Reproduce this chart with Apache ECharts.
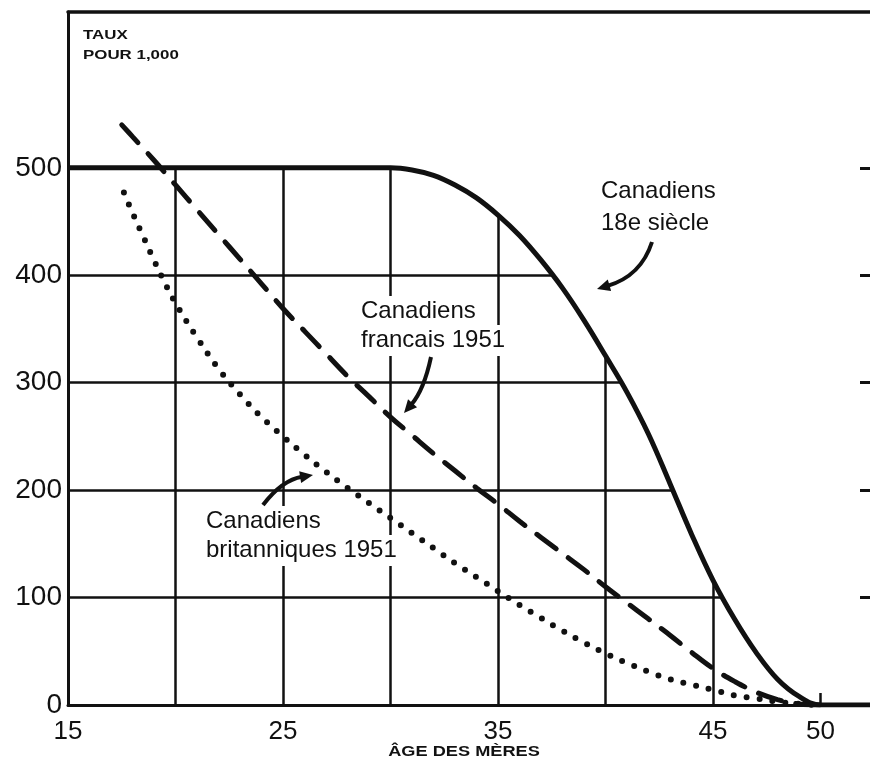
<!DOCTYPE html>
<html>
<head>
<meta charset="utf-8">
<script src="https://cdn.jsdelivr.net/npm/echarts@6/dist/echarts.min.js"></script>
<style>
html,body{margin:0;padding:0;background:#fff;}
#chart{width:870px;height:766px;}
</style>
</head>
<body>
<div id="chart"></div>
<script>
// ---- data ----
const solidAges  = [15,20,25,30,31,32,33,34,35,36,37,38,39,40,41,42,43,44,45,46,47,48,49,50,53];
const solidRates = [500,500,500,500,498,493,484,472,456,437,414,388,358,325,291,252,206,159,116,80,49,24,8,0,0];

const dashedAges  = [17.5,18,19,20,21,22,23,24,25,26,27,28,29,30,31,32,33,34,35,36,37,38,39,40,41,42,43,44,45,46,47,48,49,50];
const dashedRates = [540,529,507,484,461,438,415,392,369,348,327,306,287,268,251,234,218,202,187,171,156,141,126,110,95,80,65,49,34,22,12,5,1,0];

const dottedAges  = [17.6,18,18.5,19,19.5,20,21,22,23,24,25,26,27,28,29,30,31,32,33,34,35,36,37,38,39,40,41,42,43,44,45,46,47,48,49,50];
const dottedRates = [477,458,436,414,393,374,342,313,289,268,250,233,217,202,188,174,160,146,132,119,106,93,81,69,58,48,39,31,24,19,14,9,6,3,1,0];

const xTickLabels = [15,25,35,45,50];
const yTickLabels = [0,100,200,300,400,500];
const rightTicks  = [100,200,300,400,500];

const xMin = 15, xMax = 52.3, yMin = 0, yMax = 645;

const pairs = (xs, ys) => xs.map((x, i) => [x, ys[i]]);

const FONT = '"Liberation Sans", Arial, sans-serif';
const INK = '#111';

const chart = echarts.init(document.getElementById('chart'), null, {renderer: 'canvas'});

function arrow(x0, y0, cx, cy, x1, y1, w) {
  const dx = x1 - cx, dy = y1 - cy;
  const len = Math.hypot(dx, dy);
  const ux = dx / len, uy = dy / len;
  const L = 13, H = 6;
  const bx = x1 - ux * L, by = y1 - uy * L;
  return [
    {type: 'bezierCurve', z: 50,
     shape: {x1: x0, y1: y0, cpx1: cx, cpy1: cy, x2: bx + ux * 2, y2: by + uy * 2},
     style: {stroke: INK, lineWidth: w, fill: null}},
    {type: 'polygon', z: 50,
     shape: {points: [[x1, y1], [bx - uy * H, by + ux * H], [bx + uy * H, by - ux * H]]},
     style: {fill: INK}}
  ];
}

function label(x, y, text, boxed) {
  const st = {x: x, y: y, text: text, font: '24px ' + FONT, lineHeight: 29, fill: INK, verticalAlign: 'top'};
  if (boxed) { st.backgroundColor = '#fff'; st.padding = [1, 3]; }
  return {type: 'text', z: 40, style: st};
}

const option = {
  backgroundColor: '#fff',
  animation: false,
  grid: {left: 68, right: 0, top: 12, bottom: 61, containLabel: false},
  xAxis: [
    {type: 'value', min: xMin, max: xMax, interval: 5, position: 'bottom', z: 0,
     axisLine: {show: false}, axisTick: {show: false}, axisLabel: {show: false},
     splitLine: {show: true, lineStyle: {color: INK, width: 2.5}}},
    {type: 'value', min: xMin, max: xMax, interval: 5, position: 'bottom', z: 10,
     axisLine: {show: true, onZero: false, lineStyle: {color: INK, width: 3}},
     axisTick: {show: true, inside: true, length: 12, customValues: [50], lineStyle: {color: INK, width: 2.5}},
     axisLabel: {show: true, customValues: xTickLabels, margin: 14, color: INK, fontSize: 26, fontFamily: FONT,
                 formatter: v => (xTickLabels.indexOf(v) >= 0 ? String(v) : '')},
     splitLine: {show: false}},
    {type: 'value', min: xMin, max: xMax, position: 'top', z: 10,
     axisLine: {show: true, onZero: false, lineStyle: {color: INK, width: 3.5}},
     axisTick: {show: false}, axisLabel: {show: false}, splitLine: {show: false}}
  ],
  yAxis: [
    {type: 'value', min: yMin, max: yMax, interval: 100, position: 'left', z: 0,
     axisLine: {show: false}, axisTick: {show: false}, axisLabel: {show: false},
     splitLine: {show: true, lineStyle: {color: INK, width: 2.5}}},
    {type: 'value', min: yMin, max: yMax, interval: 100, position: 'left', z: 10,
     axisLine: {show: true, onZero: false, lineStyle: {color: INK, width: 3}},
     axisTick: {show: false},
     axisLabel: {show: true, customValues: yTickLabels, margin: 6, color: INK, fontSize: 28, fontFamily: FONT,
                 formatter: v => (yTickLabels.indexOf(v) >= 0 ? String(v) : '')},
     splitLine: {show: false}},
    {type: 'value', min: yMin, max: yMax, interval: 100, position: 'right', z: 10,
     axisLine: {show: false},
     axisTick: {show: true, inside: true, length: 10, customValues: rightTicks, lineStyle: {color: INK, width: 3}},
     axisLabel: {show: false}, splitLine: {show: false}}
  ],
  series: [
    {name: 'Canadiens 18e siècle', type: 'line', xAxisIndex: 0, yAxisIndex: 0, z: 2,
     data: pairs(solidAges, solidRates), showSymbol: false, symbol: 'none',
     smooth: 0.4,
     lineStyle: {color: INK, width: 5},
     areaStyle: {color: '#fff', opacity: 1, origin: 'end'}},
    {name: 'Canadiens francais 1951', type: 'line', xAxisIndex: 0, yAxisIndex: 0, z: 4,
     data: pairs(dashedAges, dashedRates), showSymbol: false, symbol: 'none',
     smooth: 0.4,
     lineStyle: {color: INK, width: 5, type: [24, 15], cap: 'round'}},
    {name: 'Canadiens britanniques 1951', type: 'line', xAxisIndex: 0, yAxisIndex: 0, z: 4,
     data: pairs(dottedAges, dottedRates), showSymbol: false, symbol: 'none',
     smooth: 0.4,
     lineStyle: {color: INK, width: 6, type: [0, 13], cap: 'round'}}
  ],
  graphic: [
    {type: 'text', z: 40, x: 83, y: 25, scaleX: 1.3, scaleY: 1,
     style: {x: 0, y: 0, text: 'TAUX\nPOUR 1,000', font: 'bold 13px ' + FONT, lineHeight: 20, fill: INK, verticalAlign: 'top'}},
    {type: 'text', z: 40, style: {x: 601, y: 175, text: 'Canadiens\n18e siècle', font: '24px ' + FONT, lineHeight: 32, fill: INK, verticalAlign: 'top'}},
    label(358, 296, 'Canadiens', true),
    label(358, 325, 'francais 1951', true),
    label(203, 506, 'Canadiens', true),
    label(203, 535, 'britanniques 1951', true),
    {type: 'text', z: 40, x: 464, y: 752, scaleX: 1.3, scaleY: 1,
     style: {x: 0, y: 0, text: 'ÂGE DES MÈRES', font: 'bold 14px ' + FONT, fill: INK, align: 'center', verticalAlign: 'middle'}}
  ].concat(arrow(652, 242, 641, 276, 597, 289, 4))
   .concat(arrow(431, 357, 424, 390, 404, 413, 4))
   .concat(arrow(263, 505, 282, 480, 313, 475, 4))
};

chart.setOption(option);
</script>
</body>
</html>
